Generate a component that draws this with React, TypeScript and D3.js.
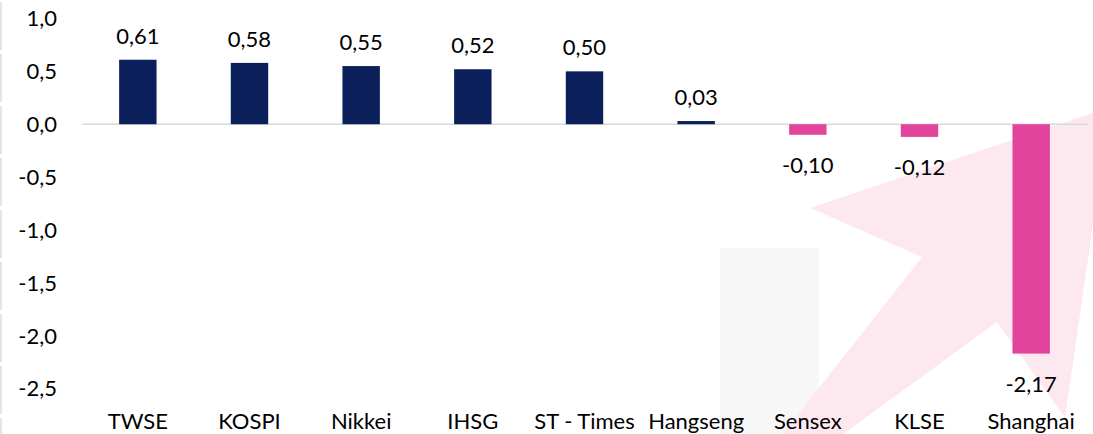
import React, { useEffect, useRef } from 'react';
import * as d3 from 'd3';

const categories = ['TWSE', 'KOSPI', 'Nikkei', 'IHSG', 'ST - Times', 'Hangseng', 'Sensex', 'KLSE', 'Shanghai'];
const values = [0.61, 0.58, 0.55, 0.52, 0.5, 0.03, -0.1, -0.12, -2.17];
const yTicks = [1.0, 0.5, 0.0, -0.5, -1.0, -1.5, -2.0, -2.5];

const W = 1093;
const H = 434;
const FONT = 'Lato, "Open Sans", sans-serif';

const fmt = (v: number, digits: number) => v.toFixed(digits).replace('.', ',');

const App = () => {
  const svgRef = useRef<SVGSVGElement>(null);

  useEffect(() => {
    const svg = d3.select(svgRef.current);
    svg.selectAll('*').remove();

    // scales
    const x = d3.scaleBand<string>().domain(categories).range([82, 1087]).padding(0);
    const y = d3.scaleLinear().domain([-2.5, 1.0]).range([388.5, 18.5]);
    const barW = x.bandwidth() * 0.335;

    // background decoration: grey block and pink arrow
    svg.append('rect')
      .attr('x', 720).attr('y', 248).attr('width', 99).attr('height', H - 248)
      .attr('fill', '#f7f7f7');
    svg.append('polygon')
      .attr('points', '1110,107 810,208 922,257 778,440 835,440 997,322 1065,418')
      .attr('fill', '#fde8f0');

    // left border segments
    svg.append('g')
      .selectAll('line')
      .data(d3.range(0, H, 52))
      .join('line')
      .attr('x1', 1).attr('x2', 1)
      .attr('y1', d => d + 2).attr('y2', d => d + 50)
      .attr('stroke', '#e3e3e3').attr('stroke-width', 2);

    // y axis labels
    svg.append('g')
      .selectAll('text')
      .data(yTicks)
      .join('text')
      .attr('x', 57)
      .attr('y', d => y(d))
      .attr('dy', '0.36em')
      .attr('text-anchor', 'end')
      .attr('font-family', FONT)
      .attr('font-size', 22)
      .attr('fill', '#000')
      .text(d => fmt(d, 1));

    // zero line
    svg.append('line')
      .attr('x1', 82).attr('x2', 1088)
      .attr('y1', y(0)).attr('y2', y(0))
      .attr('stroke', '#d9d9d9').attr('stroke-width', 1.5);

    // bars
    svg.append('g')
      .selectAll('rect')
      .data(values)
      .join('rect')
      .attr('x', (d, i) => x(categories[i])! + x.bandwidth() / 2 - barW / 2)
      .attr('y', d => y(Math.max(0, d)))
      .attr('width', barW)
      .attr('height', d => Math.abs(y(d) - y(0)))
      .attr('fill', d => (d >= 0 ? '#0b1f5a' : '#e3449b'));

    // value labels
    svg.append('g')
      .selectAll('text')
      .data(values)
      .join('text')
      .attr('x', (d, i) => x(categories[i])! + x.bandwidth() / 2)
      .attr('y', d => (d >= 0 ? y(d) - 16 : y(d) + 38))
      .attr('text-anchor', 'middle')
      .attr('font-family', FONT)
      .attr('font-size', 22)
      .attr('fill', '#000')
      .text(d => fmt(d, 2));

    // category labels
    svg.append('g')
      .selectAll('text')
      .data(categories)
      .join('text')
      .attr('x', d => x(d)! + x.bandwidth() / 2)
      .attr('y', 429)
      .attr('text-anchor', 'middle')
      .attr('font-family', FONT)
      .attr('font-size', 22)
      .attr('fill', '#000')
      .text(d => d);
  }, []);

  return (
    <svg
      ref={svgRef}
      width={W}
      height={H}
      viewBox={`0 0 ${W} ${H}`}
      style={{ position: 'absolute', left: 0, top: 0, background: '#fff' }}
    />
  );
};

export default App;
